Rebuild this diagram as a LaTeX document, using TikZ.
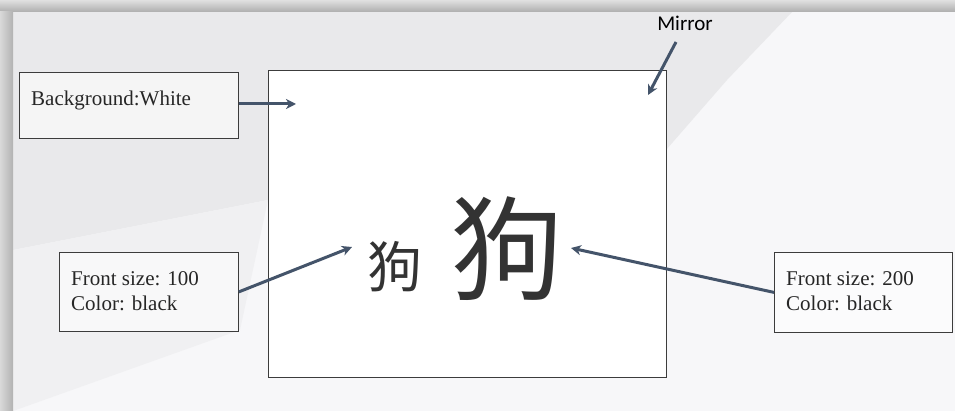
\documentclass[tikz,border=0pt]{standalone}
\usepackage{fontspec}
\newfontfamily\boxfont{Liberation Serif}
\newfontfamily\labelfont{Carlito}
\newfontfamily\cjkfont{Noto Sans CJK TC}
\usetikzlibrary{arrows.meta}
\definecolor{arrowblue}{HTML}{44546A}
\definecolor{boxline}{HTML}{3C3C3C}
\definecolor{bgbase}{HTML}{F7F7F9}
\definecolor{bggray}{HTML}{E9E9EB}
\definecolor{bgmid}{HTML}{F0F0F2}
\tikzset{
  infobox/.style={draw=boxline, line width=0.8pt, fill=white, fill opacity=0.55, draw opacity=1, minimum width=#1, minimum height=79pt, inner sep=0pt, anchor=north west},
  boxtext/.style={font=\boxfont\fontsize{21}{25}\selectfont, anchor=base west, inner sep=0pt, text=black!85},
  pointer/.style={draw=arrowblue, line width=3pt, -{Stealth[length=10pt,width=10pt,inset=3pt]}},
  mirrorbox/.style={draw=boxline, line width=0.9pt, fill=white, minimum width=398pt, minimum height=307pt, inner sep=0pt, anchor=north west},
  glyph/.style={font=\cjkfont, inner sep=0pt, text=black!80}
}
\begin{document}
\begin{tikzpicture}[x=1pt,y=-1pt]
\useasboundingbox (0,0) rectangle (955,411);
% background
\fill[bgbase] (0,0) rectangle (955,411);
\fill[bggray] (13,12) -- (792,12) -- (727,80) -- (666,150) -- (268,200) -- (13,250) -- cycle;
\fill[bgmid] (13,250) -- (268,200) -- (240,330) -- (13,411) -- cycle;
% frame shadow
\shade[top color=black!12, bottom color=black!32] (0,0) rectangle (955,12);
\shade[left color=black!15, right color=black!30] (0,12) rectangle (13,411);
% main mirror rectangle
\node[mirrorbox] (mirror) at (268,70) {};
% info boxes
\node[infobox=219pt, minimum height=66pt] (bgbox) at (19,72) {};
\node[boxtext] (bgtext) at (31,106) {Background:White};
\node[infobox=179pt] (smallbox) at (59,252) {};
\node[boxtext] (smalltext1) at (71,286) {Front size: 100};
\node[boxtext] (smalltext2) at (71,311) {Color: black};
\node[infobox=178pt, minimum height=80pt] (bigbox) at (774,252) {};
\node[boxtext] (bigtext1) at (786,286) {Front size: 200};
\node[boxtext] (bigtext2) at (786,311) {Color: black};
% label
\node[font=\labelfont\fontsize{21}{24}\selectfont, anchor=base, inner sep=0pt] (mirrorlabel) at (685,31) {Mirror};
% characters
\node[glyph, font=\cjkfont\fontsize{55}{60}\selectfont] (smallchar) at (395,267) {狗};
\node[glyph, font=\cjkfont\fontsize{113}{120}\selectfont] (bigchar) at (507,249) {狗};
% arrow endpoints
\coordinate (bgtip) at (296,104);
\coordinate (mirrorstart) at (676,42);
\coordinate (mirrortip) at (648,95);
\coordinate (smalltip) at (352,247);
\coordinate (bigtip) at (571,248);
% arrows
\draw[pointer] (bgbox.east |- bgtip) -- (bgtip);
\draw[pointer] (mirrorstart) -- (mirrortip);
\draw[pointer] (smallbox.east) -- (smalltip);
\draw[pointer] (bigbox.west) -- (bigtip);
\end{tikzpicture}
\end{document}
